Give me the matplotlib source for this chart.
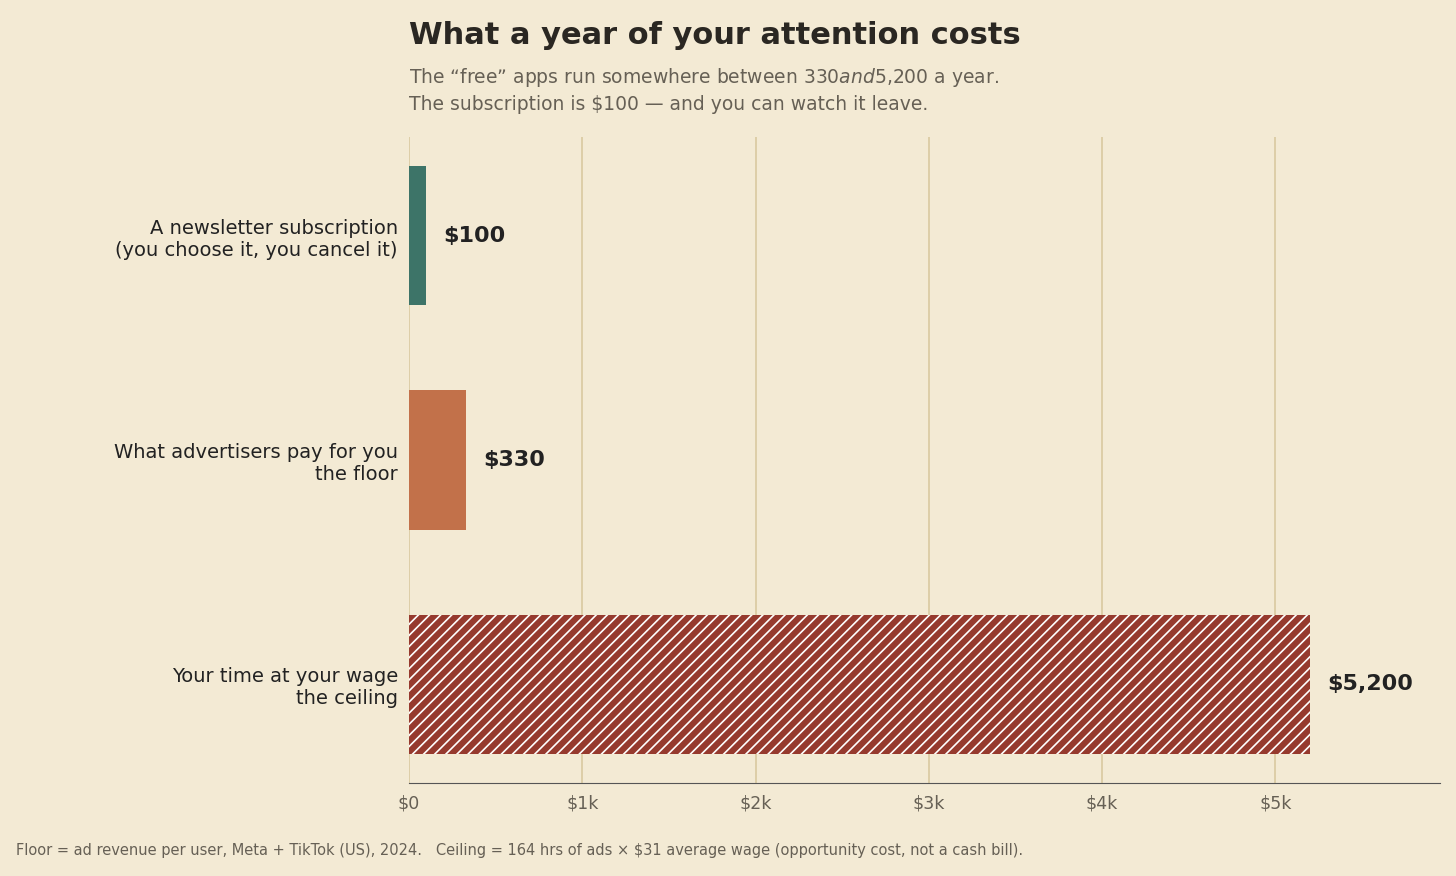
import matplotlib.pyplot as plt

BG = "#f3ead4"
categories = [
    "A newsletter subscription\n(you choose it, you cancel it)",
    "What advertisers pay for you\nthe floor",
    "Your time at your wage\nthe ceiling",
]
values = [100, 330, 5200]
value_labels = ["$100", "$330", "$5,200"]
colors = ["#3d7468", "#c2714a", "#963a2e"]
hatches = [None, None, "///"]
tick_vals = [0, 1000, 2000, 3000, 4000, 5000]
tick_labels = ["$0", "$1k", "$2k", "$3k", "$4k", "$5k"]

plt.rcParams["hatch.color"] = "white"
plt.rcParams["hatch.linewidth"] = 1.2

fig = plt.figure(figsize=(14.56, 8.76), dpi=100, facecolor=BG)
ax = fig.add_axes([409 / 1456, 1 - 783 / 876, (1440 - 409) / 1456, (783 - 137) / 876])
ax.set_facecolor(BG)

for i, (v, c, h) in enumerate(zip(values, colors, hatches)):
    ax.barh(i, v, height=0.62, color=c, hatch=h, edgecolor=c if h is None else "white",
            linewidth=0 if h is None else 0, zorder=3)
    ax.text(v + 100, i, value_labels[i], va="center", ha="left",
            fontsize=16, fontweight="bold", color="#222222")

ax.set_xlim(0, 5950)
ax.set_ylim(2.44, -0.44)
ax.set_yticks(range(len(categories)))
ax.set_yticklabels(categories, fontsize=14, color="#222222")
ax.set_xticks(tick_vals)
ax.set_xticklabels(tick_labels, fontsize=12.5, color="#666055")
ax.tick_params(length=0, pad=8)
ax.grid(axis="x", color="#d9c9a0", linewidth=1.2, zorder=0)
for s in ["top", "right", "left"]:
    ax.spines[s].set_visible(False)
ax.spines["bottom"].set_color("#555555")

fig.text(409 / 1456, 1 - 35 / 876, "What a year of your attention costs",
         fontsize=22, fontweight="bold", color="#2a2722", va="center")
fig.text(409 / 1456, 1 - 90 / 876,
         "The \u201cfree\u201d apps run somewhere between $330 and $5,200 a year.\n"
         "The subscription is $100 \u2014 and you can watch it leave.",
         fontsize=13.5, color="#666055", va="center", linespacing=1.45)
fig.text(16 / 1456, 1 - 850 / 876,
         "Floor = ad revenue per user, Meta + TikTok (US), 2024.   "
         "Ceiling = 164 hrs of ads \u00d7 $31 average wage (opportunity cost, not a cash bill).",
         fontsize=10.5, color="#666055", va="center")

fig.savefig("out.png", dpi=100, facecolor=BG)
